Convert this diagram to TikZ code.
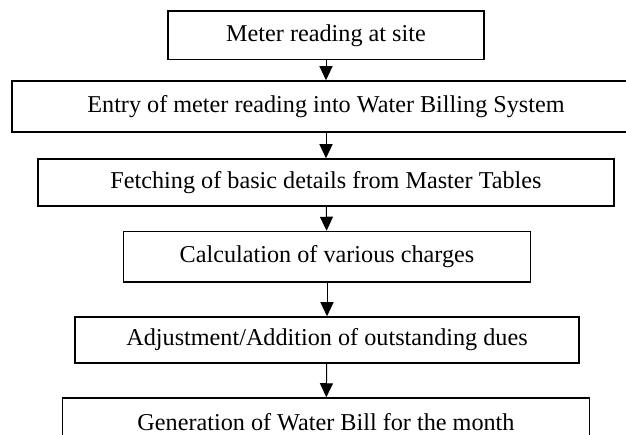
\documentclass[tikz,border=0pt]{standalone}
\usepackage{fontspec}
\setmainfont{Liberation Serif}
\usepackage{tikz}
\usetikzlibrary{arrows.meta}
\tikzset{
  stepbox/.style={rectangle,draw=black,line width=1.5pt,align=center,inner sep=0pt,
    font=\fontsize{24.2}{29}\selectfont},
  fl/.style={-{Triangle[length=14pt,width=13pt]},draw=black,line width=1pt},
}
\begin{document}
\begin{tikzpicture}[x=1pt,y=-1pt]
  \path[use as bounding box,clip] (0,0) rectangle (626,435);
  \node[stepbox,minimum width=316pt,minimum height=48.5pt] (meter) at (326,35.25) {Meter reading at site};
  \node[stepbox,minimum width=628pt,minimum height=51pt] (entry) at (326,106.5) {Entry of meter reading into Water Billing System};
  \node[stepbox,minimum width=576pt,minimum height=47pt] (fetch) at (326,182.5) {Fetching of basic details from Master Tables};
  \node[stepbox,minimum width=407pt,minimum height=50.5pt] (calc) at (327,256.75) {Calculation of various charges};
  \node[stepbox,minimum width=504pt,minimum height=46pt] (adjust) at (327,340) {Adjustment/Addition of outstanding dues};
  \node[stepbox,minimum width=527pt,minimum height=48pt] (bill) at (326,422) {Generation of Water Bill for the month};
  \draw[fl] (meter) -- (entry);
  \draw[fl] (entry) -- (fetch);
  \draw[fl] (fetch) -- (calc);
  \draw[fl] (calc) -- (adjust);
  \draw[fl] (adjust) -- (bill);
\end{tikzpicture}
\end{document}
